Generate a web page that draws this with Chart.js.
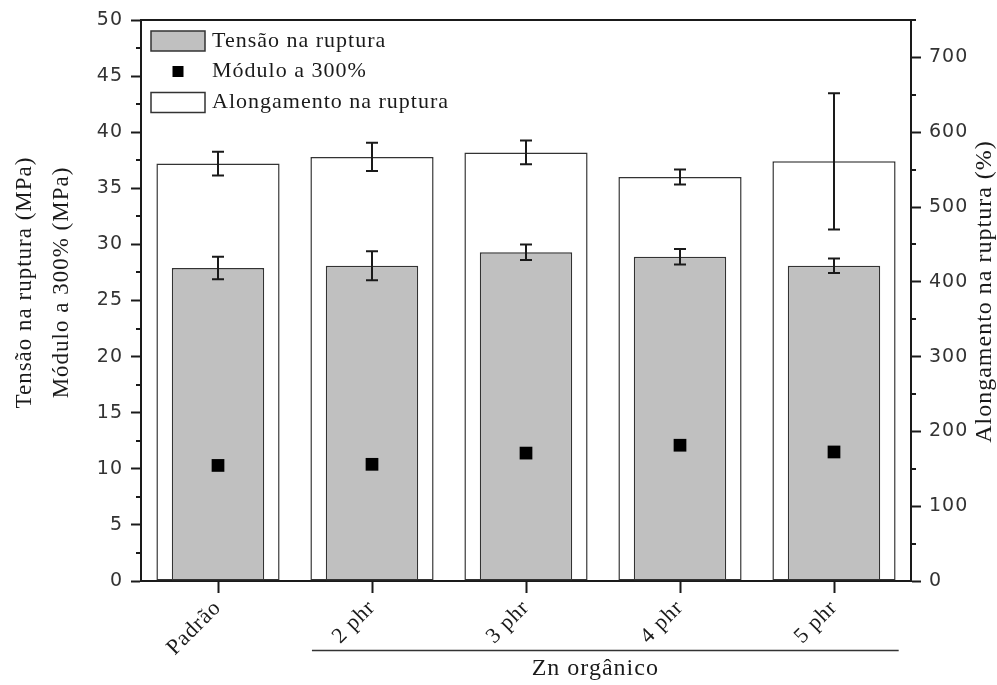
<!DOCTYPE html>
<html>
<head>
<meta charset="utf-8">
<script src="https://cdn.jsdelivr.net/npm/chart.js@4.4.1/dist/chart.umd.min.js"></script>
<style>
  html, body { margin: 0; padding: 0; background: #fff; }
  #wrap { width: 997px; height: 685px; }
</style>
</head>
<body>
<div id="wrap"><canvas id="c" width="997" height="685"></canvas></div>
<script>
// Samples and measured properties
const categories = ['Padrão', '2 phr', '3 phr', '4 phr', '5 phr'];
const tensao = [27.9, 28.1, 29.3, 28.9, 28.1];            // MPa
const tensaoErr = [1.0, 1.3, 0.7, 0.7, 0.65];
const modulo = [10.3, 10.4, 11.4, 12.1, 11.5];            // MPa
const alongamento = [558, 567, 573, 540, 561];            // %
const alongamentoErr = [16, 19, 16, 10, 91];

// Axis ranges
const leftMax = 50, leftStep = 5;
const rightMax = 750, rightStep = 100, rightLastLabel = 700;

// Group caption below the axis
const groupLabel = 'Zn orgânico';
const groupFirst = 1, groupLast = 4;

const SERIF = '"Liberation Serif", "Times New Roman", serif';
const SANS = '"DejaVu Sans", sans-serif';
const INK = '#1a1a1a';
const SPACING = '1px';

const spacingPlugin = {
  id: 'spacing',
  beforeLayout(chart) { chart.ctx.letterSpacing = SPACING; },
  beforeDraw(chart) { chart.ctx.letterSpacing = SPACING; }
};

const errorBars = {
  id: 'errorBars',
  afterDatasetsDraw(chart) {
    const ctx = chart.ctx;
    chart.data.datasets.forEach((ds, i) => {
      if (!ds.errors) return;
      const meta = chart.getDatasetMeta(i);
      const ys = chart.scales[ds.yAxisID];
      meta.data.forEach((bar, j) => {
        const v = ds.data[j], e = ds.errors[j];
        const x = bar.x;
        const yt = ys.getPixelForValue(v + e), yb = ys.getPixelForValue(v - e);
        ctx.save();
        ctx.strokeStyle = INK;
        ctx.lineWidth = 2;
        ctx.beginPath();
        ctx.moveTo(x, yt); ctx.lineTo(x, yb);
        ctx.moveTo(x - 6, yt); ctx.lineTo(x + 6, yt);
        ctx.moveTo(x - 6, yb); ctx.lineTo(x + 6, yb);
        ctx.stroke();
        ctx.restore();
      });
    });
  }
};

const minorTicks = {
  id: 'minorTicks',
  afterDraw(chart) {
    const ctx = chart.ctx;
    const yl = chart.scales.y, yr = chart.scales.y2;
    ctx.save();
    ctx.strokeStyle = INK;
    ctx.lineWidth = 2;
    ctx.beginPath();
    for (let v = leftStep / 2; v < leftMax; v += leftStep) {
      const p = Math.round(yl.getPixelForValue(v));
      ctx.moveTo(yl.right - 5, p); ctx.lineTo(yl.right, p);
    }
    for (let v = rightStep / 2; v <= rightMax; v += rightStep) {
      const p = Math.round(yr.getPixelForValue(v));
      ctx.moveTo(yr.left, p); ctx.lineTo(yr.left + 5, p);
    }
    ctx.stroke();
    ctx.restore();
  }
};

const axisTitles = {
  id: 'axisTitles',
  afterDraw(chart) {
    const ctx = chart.ctx;
    const a = chart.chartArea;
    const cy = (a.top + a.bottom) / 2;
    ctx.save();
    ctx.letterSpacing = SPACING;
    ctx.fillStyle = INK;
    ctx.textAlign = 'center';
    ctx.textBaseline = 'middle';
    ctx.font = '23px ' + SERIF;
    const lines = [['Tensão na ruptura (MPa)', 25], ['Módulo a 300% (MPa)', 62]];
    lines.forEach(([t, x]) => {
      ctx.save(); ctx.translate(x, cy - 18); ctx.rotate(-Math.PI / 2); ctx.fillText(t, 0, 0); ctx.restore();
    });
    ctx.save(); ctx.translate(985, cy - 9); ctx.rotate(-Math.PI / 2);
    ctx.font = '24px ' + SERIF;
    ctx.fillText('Alongamento na ruptura (%)', 0, 0);
    ctx.restore();

    // group caption under the rotated category labels
    const xs = chart.scales.x;
    const w = xs.getPixelForValue(1) - xs.getPixelForValue(0);
    const x0 = xs.getPixelForValue(groupFirst) - 0.39 * w;
    const x1 = xs.getPixelForValue(groupLast) + 0.42 * w;
    ctx.strokeStyle = '#333';
    ctx.lineWidth = 1.5;
    ctx.beginPath(); ctx.moveTo(x0, 650.5); ctx.lineTo(x1, 650.5); ctx.stroke();
    ctx.font = '24px ' + SERIF;
    ctx.fillText(groupLabel, (x0 + x1) / 2 - 10, 669);
    ctx.restore();
  }
};

const boxLegend = {
  id: 'boxLegend',
  afterDraw(chart) {
    const ctx = chart.ctx;
    const a = chart.chartArea;
    const bx = a.left + 10, bw = 54, bh = 20, tx = a.left + 71;
    const rows = [a.top + 21, a.top + 51.5, a.top + 82.5];
    ctx.save();
    ctx.letterSpacing = SPACING;
    chart.data.datasets.forEach((ds, i) => {
      const cy = rows[i];
      if (ds.type === 'line') {
        ctx.fillStyle = ds.backgroundColor;
        ctx.fillRect(bx + bw / 2 - 5.5, cy - 5.5, 11, 11);
      } else {
        ctx.fillStyle = ds.backgroundColor;
        ctx.fillRect(bx, cy - bh / 2, bw, bh);
        ctx.strokeStyle = ds.borderColor;
        ctx.lineWidth = 1.5;
        ctx.strokeRect(bx, cy - bh / 2, bw, bh);
      }
      ctx.fillStyle = INK;
      ctx.font = '22px ' + SERIF;
      ctx.textAlign = 'left';
      ctx.textBaseline = 'middle';
      ctx.fillText(ds.label, tx, cy);
    });
    ctx.restore();
  }
};

new Chart(document.getElementById('c'), {
  type: 'bar',
  data: {
    labels: categories,
    datasets: [
      {
        label: 'Tensão na ruptura', data: tensao, errors: tensaoErr, yAxisID: 'y',
        backgroundColor: '#c0c0c0', borderColor: '#333', borderWidth: 1.5, borderSkipped: false,
        barPercentage: 0.6, categoryPercentage: 1, grouped: false, order: 1
      },
      {
        label: 'Módulo a 300%', type: 'line', data: modulo, yAxisID: 'y',
        showLine: false, pointStyle: 'rect', pointRadius: 9, pointHoverRadius: 9,
        backgroundColor: '#000', borderColor: '#000', pointBorderWidth: 0, order: 0
      },
      {
        label: 'Alongamento na ruptura', data: alongamento, errors: alongamentoErr, yAxisID: 'y2',
        backgroundColor: '#ffffff', borderColor: '#333', borderWidth: 1.5, borderSkipped: false,
        barPercentage: 0.8, categoryPercentage: 1, grouped: false, order: 2
      }
    ]
  },
  options: {
    responsive: false,
    animation: false,
    devicePixelRatio: 1,
    layout: { padding: { top: 20, left: 0, right: 0, bottom: 0 } },
    plugins: { legend: { display: false }, tooltip: { enabled: false } },
    scales: {
      x: {
        position: 'bottom',
        offset: true,
        grid: { offset: false, drawOnChartArea: false, drawTicks: true, tickLength: 12, tickWidth: 2, tickColor: INK },
        border: { display: true, color: INK, width: 2 },
        ticks: { font: { family: SERIF, size: 22 }, color: INK, maxRotation: 45, minRotation: 45, padding: 2 },
        afterFit(s) { s.height = 104; }
      },
      xTop: {
        type: 'category',
        position: 'top',
        offset: true,
        grid: { display: false, drawTicks: false },
        border: { display: true, color: INK, width: 2 },
        ticks: { display: false },
        afterFit(s) { s.height = 0; }
      },
      y: {
        position: 'left',
        min: 0, max: leftMax,
        ticks: { stepSize: leftStep, font: { family: SANS, size: 19 }, color: '#333', padding: 8 },
        grid: { drawOnChartArea: false, tickLength: 10, tickWidth: 2, tickColor: INK },
        border: { color: INK, width: 2 },
        afterFit(s) { s.width = 141; }
      },
      y2: {
        position: 'right',
        min: 0, max: rightMax,
        ticks: { stepSize: rightStep, font: { family: SANS, size: 19 }, color: '#333', padding: 8 },
        grid: { drawOnChartArea: false, tickLength: 10, tickWidth: 2, tickColor: INK },
        border: { color: INK, width: 2 },
        afterBuildTicks(s) { s.ticks = s.ticks.filter(t => t.value <= rightLastLabel); },
        afterFit(s) { s.width = 86; }
      }
    }
  },
  plugins: [spacingPlugin, errorBars, minorTicks, axisTitles, boxLegend]
});
</script>
</body>
</html>
